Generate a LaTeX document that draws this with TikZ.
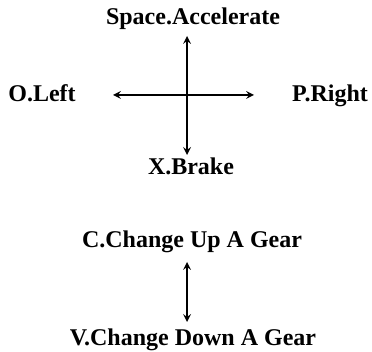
\documentclass[tikz,border=0pt]{standalone}
\usepackage{fontspec}
\setmainfont{Liberation Serif}
\usepackage{tikz}
\tikzset{key/.style={font=\fontsize{24}{26}\selectfont\bfseries, inner sep=0pt, anchor=base}, dir/.style={<->, >=stealth, line width=2.4pt}}

\begin{document}
\begin{tikzpicture}[x=1pt, y=-1pt]
\useasboundingbox (0,0) rectangle (372,352);
\node[key] (acc) at (193,25) {Space.Accelerate};
\node[key] (brake) at (191,175) {X.Brake};
\node[key] (left) at (42,102) {O.Left};
\node[key] (right) at (330,102) {P.Right};
\node[key] (up) at (192,248) {C.Change Up A Gear};
\node[key] (down) at (193,345) {V.Change Down A Gear};
\coordinate (n) at (187,36);
\coordinate (s) at (187,155);
\coordinate (w) at (113,95);
\coordinate (e) at (254,95);
\coordinate (gu) at (187,262);
\coordinate (gd) at (187,322);
\draw[dir] (n) -- (s);
\draw[dir] (w) -- (e);
\draw[dir] (gu) -- (gd);
\end{tikzpicture}
\end{document}
